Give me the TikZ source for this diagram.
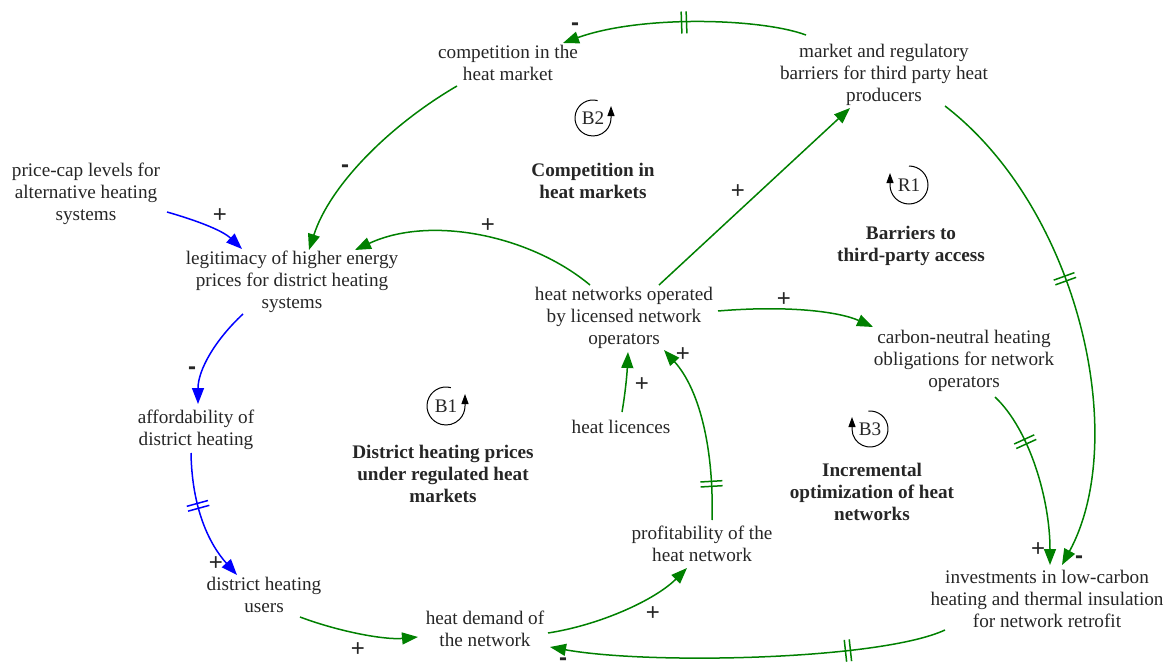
\documentclass[tikz,border=0pt]{standalone}
\usepackage{fontspec}
\setmainfont{Liberation Serif}
\newfontfamily\signfont{Liberation Sans}
\usetikzlibrary{arrows.meta,decorations.markings,calc}
\definecolor{dg}{RGB}{0,128,0}
\definecolor{bl}{RGB}{0,0,255}
\begin{document}
\begin{tikzpicture}[x=1pt,y=-1pt,
  var/.style={align=center,font=\fontsize{19.2}{22}\selectfont,inner sep=0pt,text=black!85},
  loopname/.style={align=center,font=\fontsize{19.2}{22}\selectfont\bfseries,inner sep=0pt,text=black!85},
  lnk/.style={line width=1.5pt,-{Triangle[length=16pt,width=12pt]}},
  gl/.style={lnk,color=dg},
  bll/.style={lnk,color=bl},
  sgn/.style={font=\signfont\fontsize{24}{24}\selectfont,inner sep=0pt,text=black!85},
  delaymark/.style={postaction={decorate},decoration={markings,mark=at position #1 with {\draw[line width=1.5pt,-] (-2.5pt,-11pt)--(-2.5pt,11pt) (2.5pt,-11pt)--(2.5pt,11pt);}}},
  loopsym/.style={line width=1pt,-{Triangle[length=10pt,width=7pt]}},
  looplbl/.style={font=\fontsize{19.2}{22}\selectfont,inner sep=0pt,text=black!85}
]
\useasboundingbox (0,0) rectangle (1168,669);

% variables
\node[var] (comp)  at (508,63)  {competition in the\\heat market};
\node[var] (barr)  at (884,75)  {market and regulatory\\barriers for third party heat\\producers};
\node[var] (price) at (86,194)  {price-cap levels for\\alternative heating\\systems};
\node[var] (legit) at (292,282) {legitimacy of higher energy\\prices for district heating\\systems};
\node[var] (netw)  at (624,318) {heat networks operated\\by licensed network\\operators};
\node[var] (carb)  at (964,361) {carbon-neutral heating\\obligations for network\\operators};
\node[var] (aff)   at (196,430) {affordability of\\district heating};
\node[var] (lic)   at (621,427) {heat licences};
\node[var] (prof)  at (702,544) {profitability of the\\heat network};
\node[var] (users) at (264,595) {district heating\\users};
\node[var] (dem)   at (485,629) {heat demand of\\the network};
\node[var] (inv)   at (1047,599) {investments in low-carbon\\heating and thermal insulation\\for network retrofit};

% loop names
\node[loopname] (ln2) at (593,181) {Competition in\\heat markets};
\node[loopname] (ln1) at (911,246) {Barriers to\\third-party access};
\node[loopname] (lb1) at (443,474) {District heating prices\\under regulated heat\\markets};
\node[loopname] (lb3) at (872,492) {Incremental\\optimization of heat\\networks};

% loop symbols
\node[looplbl] (sB2) at (593,118) {B2};
\draw[loopsym] ($(sB2)+(-75:18)$) arc[start angle=-75,end angle=-360,radius=18] -- ++(0,-12);
\node[looplbl] (sR1) at (909,185) {R1};
\draw[loopsym] ($(sR1)+(-90:19)$) arc[start angle=-90,end angle=180,radius=19] -- ++(0,-12);
\node[looplbl] (sB1) at (446,406) {B1};
\draw[loopsym] ($(sB1)+(-75:19)$) arc[start angle=-75,end angle=-360,radius=19] -- ++(0,-12);
\node[looplbl] (sB3) at (870,429) {B3};
\draw[loopsym] ($(sB3)+(-95:18)$) arc[start angle=-95,end angle=180,radius=18] -- ++(0,-12);

% links
% 1 barriers -> competition
\draw[gl,delaymark=0.5] ($(barr)+(-78,-40)$) .. controls (760,18) and (640,15) .. ($(comp)+(55,-20)$);
\node[sgn] (s1) at (575,27) {\textbf{-}};
% 2 competition -> legitimacy
\draw[gl] ($(comp)+(-51,23)$) .. controls (390,125) and (330,185) .. ($(legit)+(17,-32)$);
\node[sgn] (s2) at (345,169) {\textbf{-}};
% 3 price-cap -> legitimacy
\draw[bll] ($(price)+(81,18)$) .. controls (195,220) and (222,230) .. ($(legit)+(-50,-33)$);
\node[sgn] (s3) at (220,216) {+};
% 4 networks -> legitimacy
\draw[gl] ($(netw)+(-34,-33)$) .. controls (530,235) and (430,215) .. ($(legit)+(63,-32)$);
\node[sgn] (s4) at (488,226) {+};
% 5 networks -> barriers
\draw[gl] ($(netw)+(35,-33)$) -- ($(barr)+(-34,33)$);
\node[sgn] (s5) at (738,192) {+};
% 6 legitimacy -> affordability
\draw[bll] ($(legit)+(-49,32)$) .. controls (215,340) and (198,370) .. ($(aff)+(2,-26)$);
\node[sgn] (s6) at (192,371) {\textbf{-}};
% 7 affordability -> users
\draw[bll,delaymark=0.4] ($(aff)+(-5,23)$) .. controls (192,510) and (210,545) .. ($(users)+(-27,-20)$);
\node[sgn] (s7) at (216,564) {+};
% 8 users -> demand
\draw[gl] ($(users)+(36,22)$) .. controls (340,632) and (385,640) .. ($(dem)+(-67,8)$);
\node[sgn] (s8) at (358,650) {+};
% 9 demand -> profitability
\draw[gl] ($(dem)+(63,4)$) .. controls (600,625) and (655,600) .. ($(prof)+(-15,24)$);
\node[sgn] (s9) at (653,614) {+};
% 10 profitability -> networks
\draw[gl,delaymark=0.2] ($(prof)+(10,-24)$) .. controls (714,450) and (700,390) .. ($(netw)+(40,32)$);
\node[sgn] (s10) at (683,355) {+};
% 11 licences -> networks
\draw[gl] ($(lic)+(1,-15)$) .. controls (625,395) and (627,375) .. ($(netw)+(4,34)$);
\node[sgn] (s11) at (642,385) {+};
% 12 networks -> carbon
\draw[gl] ($(netw)+(94,-7)$) .. controls (790,305) and (840,312) .. ($(carb)+(-91,-34)$);
\node[sgn] (s12) at (784,300) {+};
% 13 carbon -> investments
\draw[gl,delaymark=0.3] ($(carb)+(31,36)$) .. controls (1030,430) and (1050,500) .. ($(inv)+(3,-34)$);
\node[sgn] (s13) at (1038,550) {+};
% 14 barriers -> investments
\draw[gl,delaymark=0.42] ($(barr)+(61,31)$) .. controls (1080,210) and (1130,440) .. ($(inv)+(15,-34)$);
\node[sgn] (s14) at (1079,560) {\textbf{-}};
% 15 investments -> demand
\draw[gl,delaymark=0.25] ($(inv)+(-102,31)$) .. controls (880,660) and (650,665) .. ($(dem)+(65,18)$);
\node[sgn] (s15) at (563,662) {\textbf{-}};
\end{tikzpicture}
\end{document}
